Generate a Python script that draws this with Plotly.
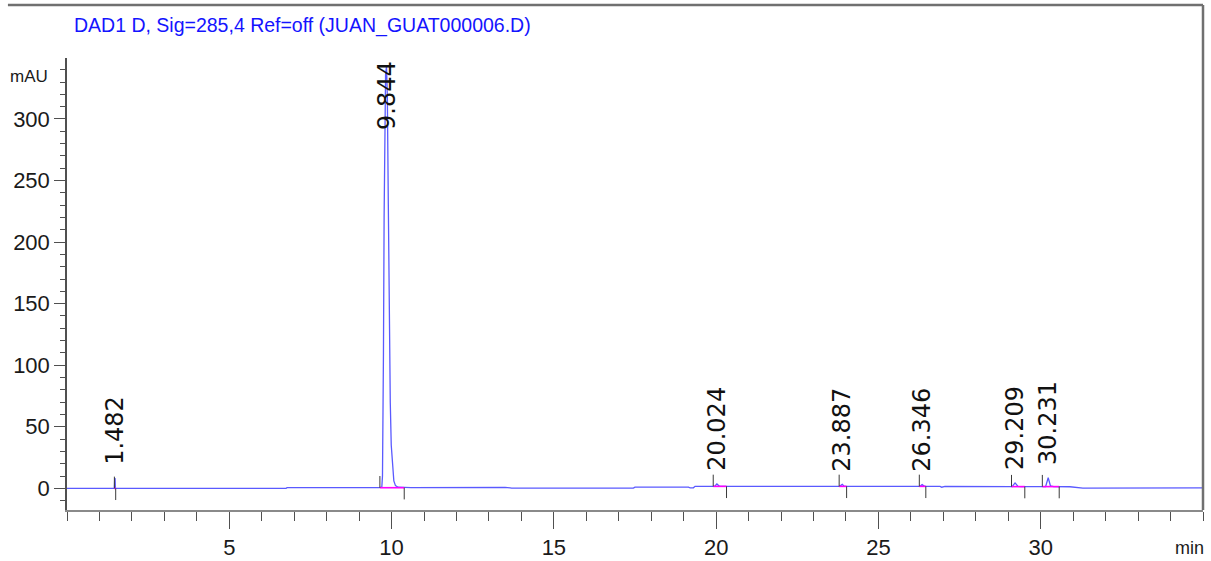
import plotly.graph_objects as go

# Chromatogram signal (retention time in min, absorbance in mAU)
time_min = [
    0.00, 1.40, 1.46, 1.47, 1.482, 1.49, 1.50, 6.75, 6.78,
    9.62, 9.70, 9.72, 9.735, 9.75, 9.77, 9.79, 9.815, 9.844, 9.87, 9.90,
    9.93, 9.96, 9.99, 10.03, 10.07, 10.12, 10.20, 10.60, 10.75, 10.78,
    10.84, 10.87, 11.70, 11.80, 11.90, 12.10, 12.30, 12.60, 12.90, 13.20,
    13.50, 13.65, 13.70, 17.45, 17.50, 19.15, 19.20, 19.30, 19.35, 19.95,
    20.024, 20.10, 20.20, 23.80, 23.887, 23.95, 26.28, 26.346, 26.42, 26.90,
    26.95, 27.05, 27.30, 27.35, 27.45, 27.55, 27.65, 29.12, 29.209, 29.30,
    29.40, 30.15, 30.231, 30.30, 30.40, 30.90, 31.30, 35.00,
]
signal_mau = [
    0.0, 0.0, 0.0, 8.0, 8.2, 0.3, 0.0, 0.0, 0.5,
    0.5, 1.0, 10.0, 45.0, 110.0, 220.0, 300.0, 336.0, 343.0, 318.0, 230.0,
    140.0, 70.0, 35.0, 15.0, 6.0, 2.2, 0.9, 0.6, 0.6, 1.1,
    1.1, 0.6, 0.6, 0.9, 0.5, 1.0, 0.6, 1.1, 0.7, 1.0,
    0.7, 0.4, 0.2, 0.2, 1.0, 1.0, 0.3, 0.4, 1.6, 1.6,
    3.6, 1.8, 1.6, 1.6, 3.2, 1.6, 1.6, 3.0, 1.6, 1.6,
    0.9, 1.5, 1.5, 0.9, 1.5, 0.9, 1.5, 1.4, 4.4, 1.6,
    1.4, 1.4, 8.6, 2.0, 1.4, 1.3, 0.2, 0.3,
]

# Integrated peaks
peak_rt = [1.482, 9.844, 20.024, 23.887, 26.346, 29.209, 30.231]
peak_apex = [8.2, 343.0, 3.6, 3.2, 3.0, 4.4, 8.6]
base_start = [1.46, 9.64, 19.91, 23.79, 26.26, 29.10, 30.05]
base_end = [1.50, 10.39, 20.32, 24.02, 26.46, 29.51, 30.57]
base_level = [0.0, 0.5, 1.6, 1.6, 1.6, 1.4, 1.4]

x_ticks = [5, 10, 15, 20, 25, 30]
y_ticks = [0, 50, 100, 150, 200, 250, 300]

X_RANGE = [0, 35]
Y_RANGE = [-17.6, 349.5]
MARK = 9.5  # length of baseline start/end markers, mAU

SANS = "Liberation Sans, Arial, sans-serif"
WIDE = "DejaVu Sans, Verdana, sans-serif"

fig = go.Figure()

fig.add_trace(go.Scatter(
    x=time_min, y=signal_mau, mode="lines",
    line=dict(color="rgb(90,90,255)", width=1.3),
    hoverinfo="skip", showlegend=False,
))

# magenta integration baselines
bx, by = [], []
for s, e, b in zip(base_start, base_end, base_level):
    bx += [s, e, None]
    by += [b, b, None]
fig.add_trace(go.Scatter(
    x=bx, y=by, mode="lines",
    line=dict(color="#ff00ff", width=1.6),
    hoverinfo="skip", showlegend=False,
))

# start (up) and end (down) markers
tx, ty = [], []
for s, e, b in zip(base_start, base_end, base_level):
    tx += [s, s, None, e, e, None]
    ty += [b, b + MARK, None, b, b - MARK, None]
fig.add_trace(go.Scatter(
    x=tx, y=ty, mode="lines",
    line=dict(color="#3a3a3a", width=1),
    hoverinfo="skip", showlegend=False,
))

annotations = []
for rt, apex in zip(peak_rt, peak_apex):
    label = f"{rt:.3f}"
    if apex + 60 > Y_RANGE[1]:
        annotations.append(dict(
            x=rt, y=Y_RANGE[1], xref="x", yref="y", text=label,
            textangle=-90, showarrow=False, xanchor="center", yanchor="top",
            yshift=-1, font=dict(family=WIDE, size=24, color="#111111"),
        ))
    else:
        annotations.append(dict(
            x=rt, y=apex, xref="x", yref="y", text=label,
            textangle=-90, showarrow=False, xanchor="center", yanchor="bottom",
            yshift=11, font=dict(family=WIDE, size=24, color="#111111"),
        ))

annotations += [
    dict(x=0.0044, y=1.0708, xref="paper", yref="paper",
         text="DAD1 D, Sig=285,4 Ref=off (JUAN_GUAT000006.D)",
         showarrow=False, xanchor="left", yanchor="middle",
         font=dict(family=SANS, size=19.5, color="#1414ff")),
    dict(x=-0.015, y=0.960, xref="paper", yref="paper", text="mAU",
         showarrow=False, xanchor="right", yanchor="middle",
         font=dict(family=SANS, size=17, color="#1a1a1a")),
    dict(x=1.0, y=-0.084, xref="paper", yref="paper", text="min",
         showarrow=False, xanchor="right", yanchor="middle", xshift=3,
         font=dict(family=SANS, size=18, color="#1a1a1a")),
]

shapes = [
    # top rule and right frame
    dict(type="line", xref="paper", yref="paper", x0=-0.052, x1=1.0,
         y0=1.1173, y1=1.1173, line=dict(color="#707070", width=2.5)),
    dict(type="line", xref="paper", yref="paper", x0=1.0, x1=1.0,
         y0=0, y1=1.1173, line=dict(color="#707070", width=2.5)),
]

fig.update_layout(
    width=1211, height=561,
    margin=dict(l=67, r=8, t=58, b=51, autoexpand=False),
    paper_bgcolor="white", plot_bgcolor="white",
    showlegend=False,
    annotations=annotations,
    shapes=shapes,
    xaxis=dict(
        range=X_RANGE, showgrid=False, zeroline=False, automargin=False,
        showline=True, linecolor="#8a8a8a", linewidth=2,
        tickvals=x_ticks, ticktext=[str(v) for v in x_ticks],
        ticks="outside", ticklen=17, tickwidth=1.2, tickcolor="#505050",
        minor=dict(dtick=1, tick0=0, ticks="outside", ticklen=9,
                   tickwidth=1.2, tickcolor="#505050", showgrid=False),
        tickfont=dict(family=SANS, size=22, color="#1a1a1a"),
    ),
    yaxis=dict(
        range=Y_RANGE, showgrid=False, zeroline=False, automargin=False,
        showline=True, linecolor="#505050", linewidth=1.5,
        tickvals=y_ticks, ticktext=[str(v) for v in y_ticks],
        ticks="outside", ticklen=11, tickwidth=1.2, tickcolor="#505050",
        minor=dict(dtick=10, tick0=0, ticks="outside", ticklen=5,
                   tickwidth=1.2, tickcolor="#505050", showgrid=False),
        tickfont=dict(family=SANS, size=22, color="#1a1a1a"),
    ),
)

fig.write_html("out.html")
